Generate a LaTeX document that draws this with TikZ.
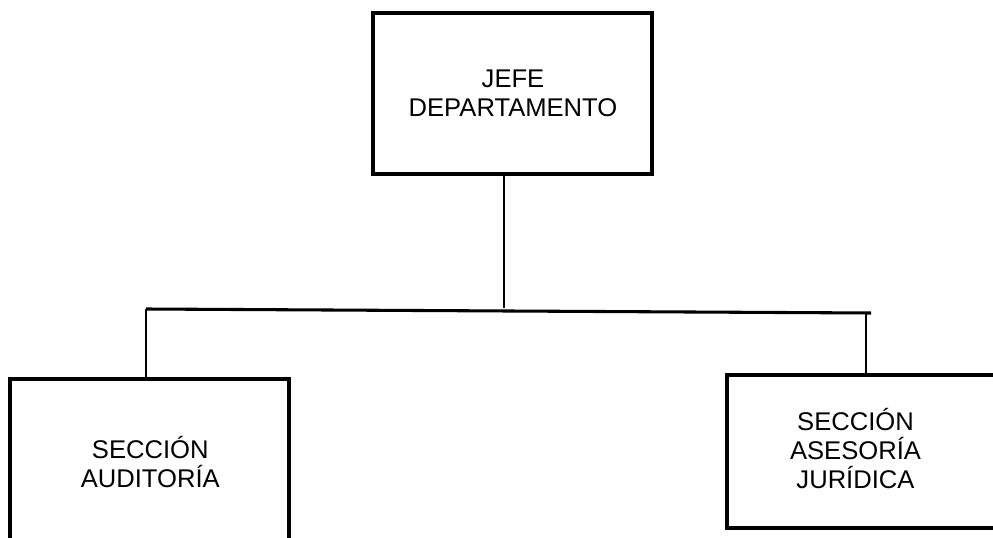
\documentclass[tikz,border=0pt]{standalone}
\usepackage{fontspec}
\setmainfont{Liberation Sans}
\begin{document}
\begin{tikzpicture}[x=0.75pt,y=-0.75pt,
  orgbox/.style={draw=black, line width=3pt, fill=white, rectangle, inner sep=0pt},
  orgtext/.style={align=center, inner sep=0pt, font=\fontsize{19.2}{21.75}\selectfont},
  thin conn/.style={line width=1.5pt},
  bar conn/.style={line width=2.3pt}]
\useasboundingbox (0,0) rectangle (993,538);
\fill[white] (0,0) rectangle (993,538);
% boxes
\node[orgbox, minimum width=209.25pt, minimum height=120.75pt] (top) at (512.5,93.5) {};
\node[orgtext] (toptext) at (513,93.5) {JEFE\\DEPARTAMENTO};
\node[orgbox, minimum width=209.25pt, minimum height=129pt] (left) at (149.5,465) {};
\node[orgtext] (lefttext) at (150.3,462) {SECCIÓN\\AUDITORÍA};
\node[orgbox, minimum width=210pt, minimum height=114.75pt] (right) at (867,451.5) {};
\node[orgtext] (righttext) at (855.5,448.5) {SECCIÓN\\ASESORÍA\\JURÍDICA};
% connector coordinates
\coordinate (j) at (504,308);
\coordinate (hl) at (146,309);
\coordinate (hr) at (871,313);
\coordinate (rv) at (866,313);
% connectors
\draw[thin conn] (top.south -| j) -- (j);
\draw[bar conn] (hl) -- (hr);
\draw[thin conn] (hl) -- (hl |- left.north);
\draw[thin conn] (rv) -- (rv |- right.north);
\end{tikzpicture}
\end{document}
